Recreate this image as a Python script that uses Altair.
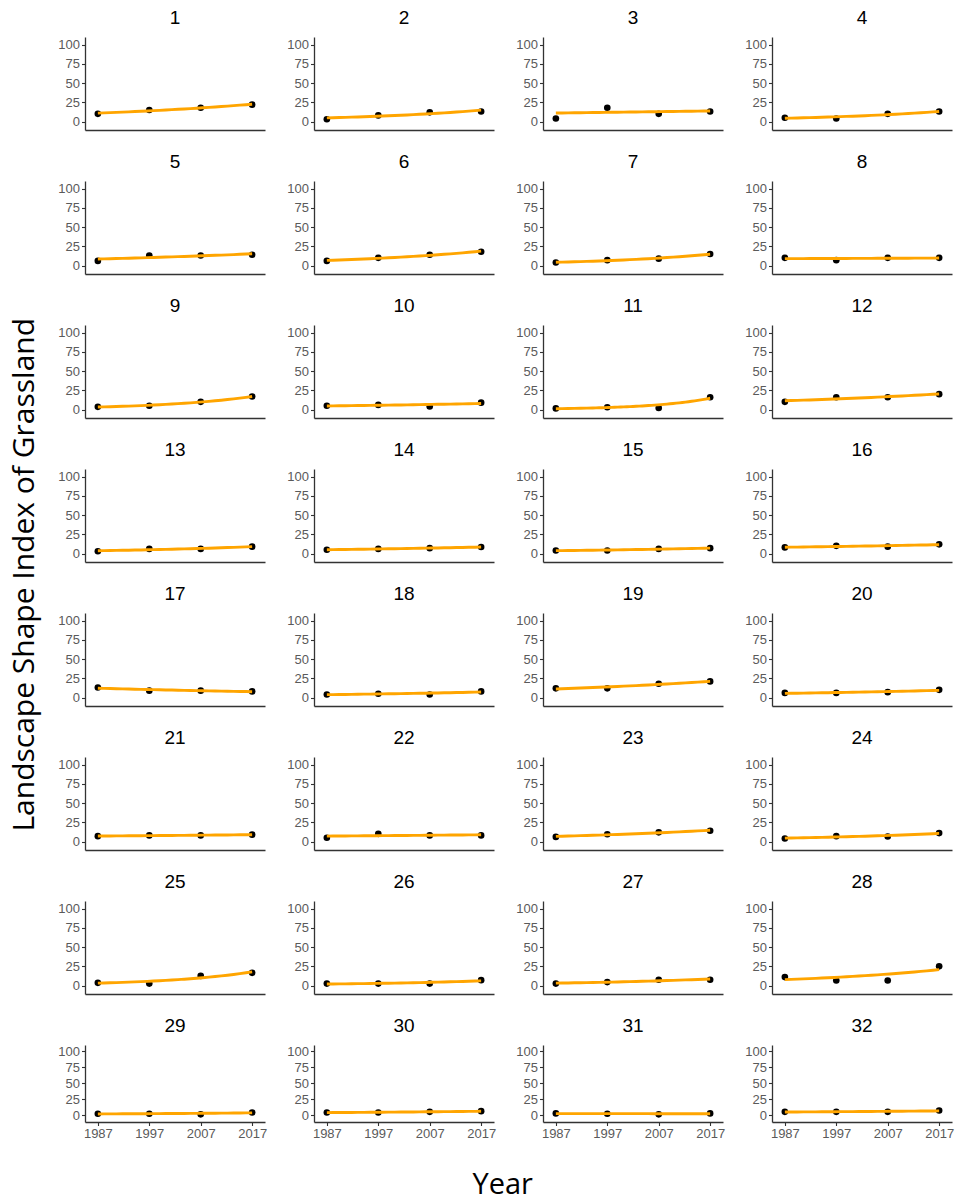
import altair as alt
import pandas as pd

# Survey years shared by every panel
years = [1987, 1997, 2007, 2017]

# Panel identifiers (32 landscape units)
panel_ids = list(range(1, 33))

# Landscape Shape Index of grassland, one value per panel for each year
lsi_1987 = [10, 3, 4, 5, 6, 6, 4, 10, 3.5, 5, 1.5, 10, 3, 5, 4, 8,
            13, 4, 12, 6, 7, 5, 6, 4, 3.5, 2.5, 2.5, 11, 2, 4, 2.5, 5]
lsi_1997 = [15, 8, 18, 4, 13, 10, 7, 7, 5, 6, 3, 16, 6, 6, 4, 10,
            9, 5, 12, 6, 8, 10, 9.5, 7, 2.5, 2.5, 4.5, 6.5, 2, 4, 2, 5]
lsi_2007 = [18, 12, 10, 10, 13, 14, 9, 10, 10, 4, 2, 16, 6, 7, 6, 9,
            9, 4, 18, 7, 8, 8, 12, 6.5, 12.5, 2.5, 7.5, 6.5, 1, 5, 1, 5]
lsi_2017 = [22, 13, 13, 13, 14, 18, 15, 10, 17, 9, 16, 20, 9, 8.5, 7, 12,
            8, 8, 21, 10, 9, 8, 14, 11, 16.5, 7, 7.5, 25, 4, 6, 2.5, 7]

y_ticks = [0, 25, 50, 75, 100]

records = []
for k, pid in enumerate(panel_ids):
    for yr, series in zip(years, [lsi_1987, lsi_1997, lsi_2007, lsi_2017]):
        records.append({"panel": pid, "year": yr, "lsi": series[k]})
df = pd.DataFrame(records)

N_COLS = 4


def panel(pid, bottom):
    base = alt.Chart(df).transform_filter(alt.datum.panel == pid)
    x = alt.X(
        "year:Q",
        scale=alt.Scale(domain=[1984.5, 2019.5], nice=False, zero=False),
        axis=alt.Axis(values=years, format="d", labels=bottom, ticks=bottom,
                      title=None, labelFlush=False, labelOverlap=False),
    )
    y = alt.Y(
        "lsi:Q",
        scale=alt.Scale(domain=[-11, 110], nice=False, zero=False),
        axis=alt.Axis(values=y_ticks, title=None, labelOverlap=False),
    )
    pts = base.mark_circle(size=44, color="black", opacity=1).encode(x=x, y=y)
    # exponential trend fitted per panel, drawn over the points
    fit = (
        base.transform_regression("year", "lsi", method="exp")
        .mark_line(color="#FFA500", strokeWidth=2.9)
        .encode(x=x, y=y)
    )
    return alt.layer(pts, fit).properties(
        width=180,
        height=77 if bottom else 93,
        title=alt.TitleParams(str(pid)),
    )


last_row = set(panel_ids[-N_COLS:])
cells = [panel(pid, pid in last_row) for pid in panel_ids]

grid = alt.concat(
    *cells,
    columns=N_COLS,
    spacing={"row": 51, "column": 49},
    bounds="flush",
    title=alt.TitleParams(
        "Landscape Shape Index of Grassland",
        orient="left",
        anchor="middle",
        font="Open Sans",
        fontSize=30,
        offset=18,
    ),
)

chart = (
    alt.vconcat(
        grid,
        title=alt.TitleParams(
            "Year", orient="bottom", anchor="middle", font="Open Sans",
            fontSize=29, offset=30, dx=21,
        ),
    )
    .properties(padding={"left": 9, "top": 9, "right": 5, "bottom": 1})
    .configure_view(stroke=None)
    .configure_axis(
        domainColor="#333333",
        domainWidth=1.3,
        tickColor="#333333",
        tickWidth=1.1,
        tickSize=3.5,
        labelColor="#5a5a5a",
        labelFontSize=13,
        labelFont="Liberation Sans",
        labelPadding=2,
        grid=False,
    )
    .configure_title(
        font="Liberation Sans",
        fontSize=19,
        fontWeight="normal",
        color="black",
        anchor="middle",
        offset=9,
    )
)

chart.save("out.html", embed_options={"renderer": "svg", "actions": False})
